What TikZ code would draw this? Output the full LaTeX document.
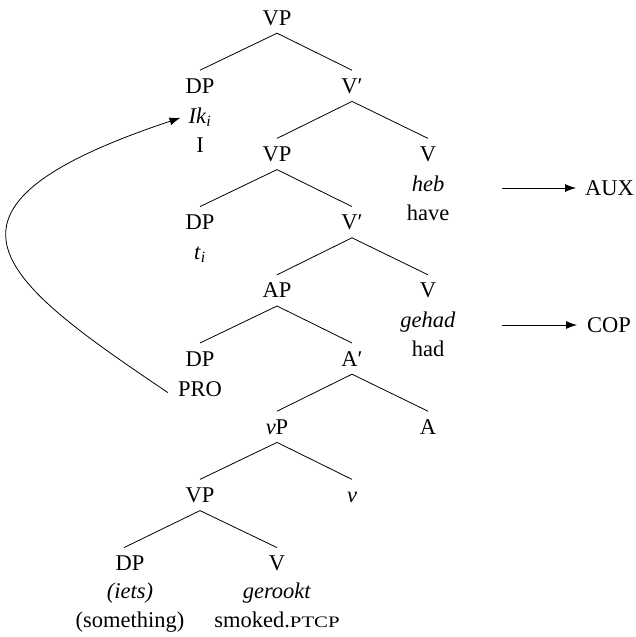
\documentclass[tikz,border=0pt]{standalone}
\usepackage{fontspec}
\usepackage{graphicx}
\setmainfont{Liberation Serif}
\usetikzlibrary{arrows.meta}
\newcommand{\labfont}{\fontsize{22.5}{27}\selectfont}
\newcommand{\ptcp}{\scalebox{1.3}[1]{\fontsize{16}{16}\selectfont PTCP}}

\begin{document}
\begin{tikzpicture}[x=1pt,y=1pt,
  lab/.style={font=\labfont, inner sep=0pt, text height=14.8pt, text depth=0pt, anchor=base},
  cat/.style={lab, inner ysep=8pt},
  branch/.style={line width=0.8pt},
  arr/.style={line width=0.8pt, -{Latex[length=11pt,width=8pt]}}]
\useasboundingbox (0,0) rectangle (636,-637);

% tree labels
\node[cat] (vp0) at (277,-25) {VP};
\node[cat] (dp1) at (200,-93.2) {DP};
\node[lab] (ik) at (200,-123.2) {\textit{Ik}\textsubscript{\textit{i}}};
\node[lab] (ipron) at (200,-152.2) {I};
\node[cat] (vb1) at (352,-93.2) {V′};
\node[cat] (vp2) at (277,-161.4) {VP};
\node[cat] (v2) at (428,-161.4) {V};
\node[lab] (heb) at (428,-191.4) {\textit{heb}};
\node[lab] (have) at (428,-220.4) {have};
\node[cat] (dp3) at (200,-229.6) {DP};
\node[lab] (trace) at (200,-259.6) {\textit{t}\textsubscript{\textit{i}}};
\node[cat] (vb3) at (352,-229.6) {V′};
\node[cat] (ap4) at (277,-297.8) {AP};
\node[cat] (v4) at (428,-297.8) {V};
\node[lab] (gehad) at (428,-327.8) {\textit{gehad}};
\node[lab] (had) at (428,-356.8) {had};
\node[cat] (dp5) at (200,-366) {DP};
\node[lab] (pro) at (200,-396) {PRO};
\node[cat] (ab5) at (352,-366) {A′};
\node[cat] (vsp6) at (277,-434.2) {\textit{v}P};
\node[cat] (a6) at (428,-434.2) {A};
\node[cat] (vp7) at (200,-502.4) {VP};
\node[cat] (lv7) at (352,-502.4) {\textit{v}};
\node[cat] (dp8) at (130,-570.6) {DP};
\node[lab] (iets) at (130,-598.6) {\textit{(iets)}};
\node[lab] (smth) at (130,-627.6) {(something)};
\node[cat] (v8) at (277,-570.6) {V};
\node[lab] (gerookt) at (277,-598.6) {\textit{gerookt}};
\node[lab] (smoked) at (277,-627.6) {smoked.\ptcp};

% branches
\draw[branch] (vp0.south) -- (dp1.north);
\draw[branch] (vp0.south) -- (vb1.north);
\draw[branch] (vb1.south) -- (vp2.north);
\draw[branch] (vb1.south) -- (v2.north);
\draw[branch] (vp2.south) -- (dp3.north);
\draw[branch] (vp2.south) -- (vb3.north);
\draw[branch] (vb3.south) -- (ap4.north);
\draw[branch] (vb3.south) -- (v4.north);
\draw[branch] (ap4.south) -- (dp5.north);
\draw[branch] (ap4.south) -- (ab5.north);
\draw[branch] (ab5.south) -- (vsp6.north);
\draw[branch] (ab5.south) -- (a6.north);
\draw[branch] (vsp6.south) -- (vp7.north);
\draw[branch] (vsp6.south) -- (lv7.north);
\draw[branch] (vp7.south) -- ([xshift=-6pt]dp8.north);
\draw[branch] (vp7.south) -- (v8.north);

% functional labels
\node[lab, anchor=west] (aux) at (585,-188) {AUX};
\coordinate (auxtail) at (502,-188);
\draw[arr] (auxtail) -- ([xshift=-9pt]aux.west);
\node[lab, anchor=west] (cop) at (587,-325) {COP};
\coordinate (coptail) at (502,-325);
\draw[arr] (coptail) -- ([xshift=-10pt]cop.west);

% movement of the subject
\draw[arr] ([xshift=-10pt,yshift=-4pt]pro.west)
  to[out=146, in=198.4, out distance=200pt, in distance=290pt]
  ([xshift=-8pt,yshift=-2pt]ik.west);
\end{tikzpicture}
\end{document}
